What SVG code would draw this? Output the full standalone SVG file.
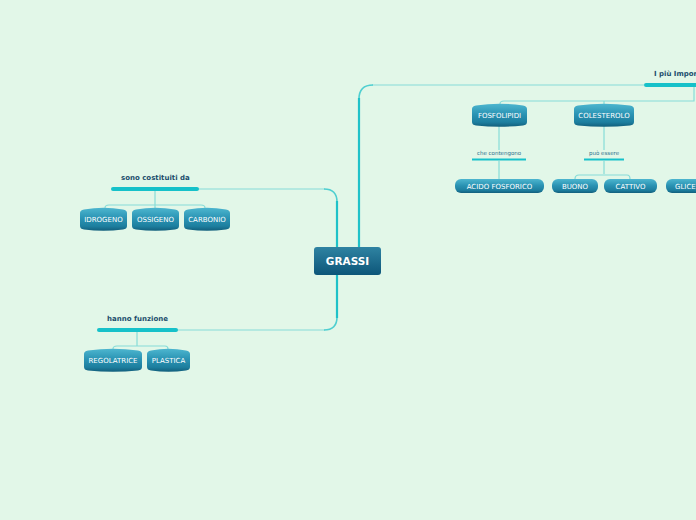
<svg xmlns="http://www.w3.org/2000/svg" width="696" height="520" viewBox="0 0 696 520">
<defs>
<linearGradient id="gNode" x1="0" y1="0" x2="0" y2="1">
<stop offset="0" stop-color="#4db6cf"/>
<stop offset="0.45" stop-color="#2b94b4"/>
<stop offset="0.8" stop-color="#1d7f9f"/>
<stop offset="1" stop-color="#125f7c"/>
</linearGradient>
<linearGradient id="gMain" x1="0" y1="0" x2="0" y2="1">
<stop offset="0" stop-color="#2f83a2"/>
<stop offset="1" stop-color="#0d5679"/>
</linearGradient>
<style>
.thin{fill:none;stroke:#86dcd8;stroke-width:1.2}
.main{fill:none;stroke:#1fc2c8;stroke-width:2.2}
.curve{fill:none;stroke:#4fcfd0;stroke-width:1.6}
.bar{stroke:#16c1c9;stroke-width:4;stroke-linecap:round}
.node{fill:url(#gNode)}
.nt{font-family:"DejaVu Sans",sans-serif;font-size:7px;fill:#ffffff;text-anchor:middle}
.lbl{font-family:"DejaVu Sans",sans-serif;font-size:7px;font-weight:bold;fill:#1b4d6c}
.sm{font-family:"DejaVu Sans",sans-serif;font-size:5.5px;fill:#2b6f8b;text-anchor:middle}
</style>
</defs>
<rect width="696" height="520" fill="#e2f7e8"/>
<g id="connectors">
<path class="thin" d="M198,189 H325"/>
<path class="curve" d="M324,189 Q337,189 337,202"/>
<path class="main" d="M337,247 V201"/>
<path class="thin" d="M644,85 H372"/>
<path class="curve" d="M373,85 Q359,85 359,99"/>
<path class="main" d="M359,247 V98"/>
<path class="thin" d="M177,330 H325"/>
<path class="curve" d="M324,330 Q337,330 337,317"/>
<path class="main" d="M337,275 V318"/>
<path class="thin" d="M155,191 V205 M105,208 Q105,205 109,205 H201 Q205,205 205,208 M155,205 V208"/>
<path class="thin" d="M137,332 V346 M113,349 Q113,346 117,346 H165 Q168,346 168,349"/>
<path class="thin" d="M694,86 V101 H504 Q500,101 500,104 M604,101 V104"/>
<path class="thin" d="M499,126 V150 M499,161 V179"/>
<path class="thin" d="M604,126 V150 M604,161 V174 M575,179 Q575,175 579,175 H627 Q630,175 630,179"/>
<line class="bar" x1="113" y1="189" x2="197" y2="189"/>
<line class="bar" x1="99" y1="330" x2="176" y2="330"/>
<line class="bar" x1="646" y1="85" x2="700" y2="85"/>
<line x1="472" y1="159.5" x2="526" y2="159.5" stroke="#16c1c9" stroke-width="2"/>
<line x1="584" y1="159.5" x2="624" y2="159.5" stroke="#16c1c9" stroke-width="2"/>
</g>
<g id="lbl-costituiti"><text class="lbl" x="121" y="180">sono costituiti da</text></g>
<g id="lbl-funzione"><text class="lbl" x="107" y="321">hanno funzione</text></g>
<g id="lbl-importanti"><text class="lbl" x="654" y="76">I più Impor</text></g>
<g id="lbl-contengono"><text class="sm" x="499" y="155">che contengono</text></g>
<g id="lbl-essere"><text class="sm" x="604" y="155">può essere</text></g>
<g id="grassi">
<rect x="314" y="247" width="67" height="28" rx="3" fill="url(#gMain)"/>
<text x="347.5" y="265" font-family="DejaVu Sans,sans-serif" font-size="10.5" font-weight="bold" fill="#ffffff" text-anchor="middle">GRASSI</text>
</g>
<g id="idrogeno">
<path class="node" d="M80,213 Q80,210 84,209.5 Q103.5,206 123,209.5 Q127,210 127,213 V226 Q127,229 123,229.5 Q103.5,232 84,229.5 Q80,229 80,226 Z"/>
<text class="nt" x="103.5" y="222">IDROGENO</text>
</g>
<g id="ossigeno">
<path class="node" d="M132,213 Q132,210 136,209.5 Q155.5,206 175,209.5 Q179,210 179,213 V226 Q179,229 175,229.5 Q155.5,232 136,229.5 Q132,229 132,226 Z"/>
<text class="nt" x="155.5" y="222">OSSIGENO</text>
</g>
<g id="carbonio">
<path class="node" d="M184,213 Q184,210 188,209.5 Q207,206 226,209.5 Q230,210 230,213 V226 Q230,229 226,229.5 Q207,232 188,229.5 Q184,229 184,226 Z"/>
<text class="nt" x="207" y="222">CARBONIO</text>
</g>
<g id="regolatrice">
<path class="node" d="M84,354 Q84,351 88,350.5 Q113,347 138,350.5 Q142,351 142,354 V367 Q142,370 138,370.5 Q113,373 88,370.5 Q84,370 84,367 Z"/>
<text class="nt" x="113" y="363">REGOLATRICE</text>
</g>
<g id="plastica">
<path class="node" d="M147,354 Q147,351 151,350.5 Q168.5,347 186,350.5 Q190,351 190,354 V367 Q190,370 186,370.5 Q168.5,373 151,370.5 Q147,370 147,367 Z"/>
<text class="nt" x="168.5" y="363">PLASTICA</text>
</g>
<g id="fosfolipidi">
<path class="node" d="M472,109 Q472,106 476,105.5 Q499.5,102 523,105.5 Q527,106 527,109 V122 Q527,125 523,125.5 Q499.5,128 476,125.5 Q472,125 472,122 Z"/>
<text class="nt" x="499.5" y="118">FOSFOLIPIDI</text>
</g>
<g id="colesterolo">
<path class="node" d="M574,109 Q574,106 578,105.5 Q604,102 630,105.5 Q634,106 634,109 V122 Q634,125 630,125.5 Q604,128 578,125.5 Q574,125 574,122 Z"/>
<text class="nt" x="604" y="118">COLESTEROLO</text>
</g>
<g id="acido-fosforico">
<rect class="node" x="455" y="179" width="89" height="14" rx="6"/>
<text class="nt" x="499.5" y="188.5">ACIDO FOSFORICO</text>
</g>
<g id="buono">
<rect class="node" x="552" y="179" width="46" height="14" rx="6"/>
<text class="nt" x="575" y="188.5">BUONO</text>
</g>
<g id="cattivo">
<rect class="node" x="604" y="179" width="53" height="14" rx="6"/>
<text class="nt" x="630.5" y="188.5">CATTIVO</text>
</g>
<g id="glice">
<rect class="node" x="666" y="179" width="60" height="14" rx="6"/>
<text class="nt" x="675" y="188.5" style="text-anchor:start">GLICE</text>
</g>
</svg>
